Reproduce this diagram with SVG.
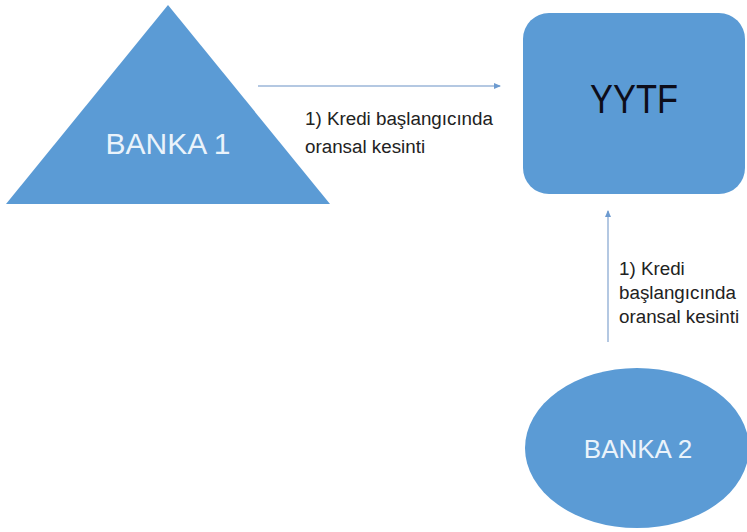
<svg xmlns="http://www.w3.org/2000/svg" width="747" height="532" viewBox="0 0 747 532">
  <defs>
    <style>
      .shape { fill: #5b9bd5; }
      .lbl { font-family: "Liberation Sans", Arial, sans-serif; fill: #eaf3fb; text-anchor: middle; }
      .edge { stroke: #b4c8e2; stroke-width: 2; fill: none; }
      .elbl { font-family: "Liberation Sans", Arial, sans-serif; font-size: 18.8px; fill: #222222; }
    </style>
    <marker id="ah" markerWidth="8" markerHeight="8" refX="6" refY="4" orient="auto" markerUnits="userSpaceOnUse">
      <path d="M0,1 L7,4 L0,7 Z" fill="#6d9bd0"/>
    </marker>
  </defs>
  <rect width="747" height="532" fill="#ffffff"/>
  <g id="connectors">
    <line class="edge" x1="258" y1="86" x2="500" y2="86" marker-end="url(#ah)"/>
    <line class="edge" x1="608" y1="342" x2="608" y2="211" marker-end="url(#ah)"/>
    <text class="elbl" x="305" y="125">1) Kredi başlangıcında</text>
    <text class="elbl" x="305" y="153">oransal kesinti</text>
    <text class="elbl" x="619" y="275">1) Kredi</text>
    <text class="elbl" x="619" y="299">başlangıcında</text>
    <text class="elbl" x="619" y="323">oransal kesinti</text>
  </g>
  <g id="banka1">
    <polygon class="shape" points="168,5 330,204 6,204"/>
    <text class="lbl" x="168" y="154" font-size="30">BANKA 1</text>
  </g>
  <g id="yytf">
    <rect class="shape" x="523" y="13" width="222" height="181" rx="26"/>
    <text x="634" y="113" font-family="Liberation Sans, Arial, sans-serif" font-size="40" fill="#0d0d1a" text-anchor="middle" textLength="88" lengthAdjust="spacingAndGlyphs">YYTF</text>
  </g>
  <g id="banka2">
    <ellipse class="shape" cx="637" cy="448" rx="112" ry="80"/>
    <text class="lbl" x="638" y="458" font-size="26">BANKA 2</text>
  </g>
</svg>
